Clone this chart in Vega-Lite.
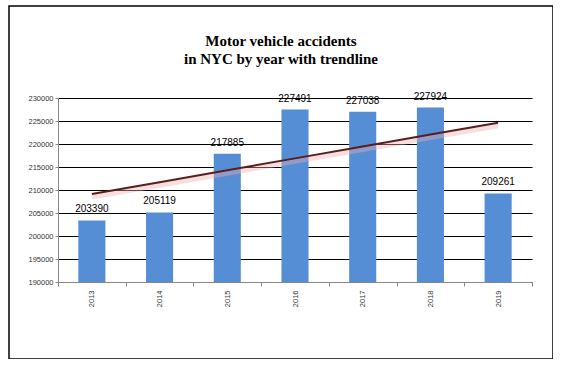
{
  "$schema": "https://vega.github.io/schema/vega-lite/v6.json",
  "width": 544,
  "height": 353,
  "autosize": {"type": "none"},
  "padding": {"left": 9, "top": 6, "right": 0, "bottom": 0},
  "background": "white",
  "config": {
    "view": {"stroke": "black", "strokeWidth": 1.5},
    "font": "Liberation Sans"
  },
  "title": {
    "text": ["Motor vehicle accidents", "in NYC  by year with trendline"],
    "font": "Liberation Serif",
    "fontSize": 15,
    "fontWeight": "bold",
    "color": "black",
    "anchor": "middle",
    "frame": "group",
    "offset": -61,
    "lineHeight": 18
  },
  "data": {
    "values": [
      {"year": "2013", "accidents": 203390, "trend": 209118},
      {"year": "2014", "accidents": 205119, "trend": 211703},
      {"year": "2015", "accidents": 217885, "trend": 214288},
      {"year": "2016", "accidents": 227491, "trend": 216873},
      {"year": "2017", "accidents": 227038, "trend": 219457},
      {"year": "2018", "accidents": 227924, "trend": 222042},
      {"year": "2019", "accidents": 209261, "trend": 224627}
    ]
  },
  "encoding": {
    "x": {
      "field": "year",
      "type": "ordinal",
      "scale": {"range": [49, 523], "paddingInner": 0, "paddingOuter": 0},
      "axis": {
        "title": null,
        "orient": "bottom",
        "offset": -77,
        "labelAngle": -90,
        "labelFontSize": 7.5,
        "labelColor": "#333333",
        "labelPadding": 4,
        "tickBand": "extent",
        "tickSize": 4,
        "tickColor": "#868686",
        "domainColor": "#868686",
        "grid": false
      }
    }
  },
  "layer": [
    {
      "mark": {"type": "bar", "color": "#558ed5", "width": {"band": 0.4}},
      "encoding": {
        "y": {
          "field": "accidents",
          "type": "quantitative",
          "scale": {"domain": [190000, 230000], "range": [276, 92], "zero": false, "nice": false},
          "axis": {
            "title": null,
            "orient": "left",
            "offset": -49,
            "format": "d",
            "values": [190000, 195000, 200000, 205000, 210000, 215000, 220000, 225000, 230000],
            "labelFontSize": 7.5,
            "labelColor": "#333333",
            "labelPadding": 2,
            "tickSize": 3,
            "tickColor": "#868686",
            "domainColor": "#868686",
            "grid": true,
            "gridColor": "black",
            "gridWidth": 1.2,
            "gridOpacity": 1
          }
        },
        "y2": {"datum": 190000}
      }
    },
    {
      "mark": {"type": "text", "dy": -6, "fontSize": 10, "color": "black", "baseline": "bottom"},
      "encoding": {
        "y": {"field": "accidents", "type": "quantitative"},
        "text": {"field": "accidents", "type": "quantitative", "format": "d"}
      }
    },
    {
      "mark": {"type": "line", "color": "#eab0b0", "strokeWidth": 5, "opacity": 0.4, "yOffset": 3},
      "encoding": {
        "y": {"field": "trend", "type": "quantitative"}
      }
    },
    {
      "mark": {"type": "line", "color": "#5a1e1e", "strokeWidth": 2},
      "encoding": {
        "y": {"field": "trend", "type": "quantitative"}
      }
    }
  ]
}
